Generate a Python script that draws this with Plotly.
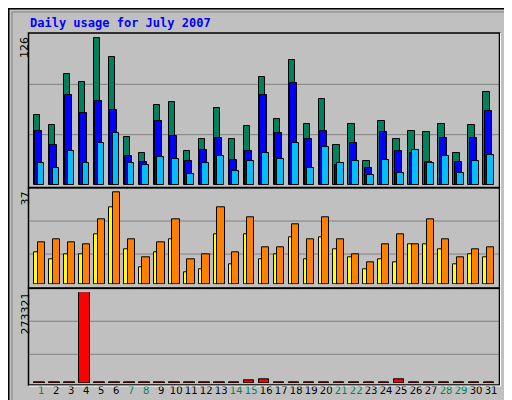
import plotly.graph_objects as go

days = list(range(1, 32))
hits = [58, 50, 93, 86, 123, 107, 40, 27, 67, 69, 28, 38, 64, 38, 49, 90, 55, 104, 51, 72, 33, 51, 20, 53, 38, 45, 44, 51, 27, 50, 78]
files = [45, 33, 75, 60, 70, 63, 24, 19, 53, 41, 20, 29, 39, 21, 28, 75, 43, 85, 38, 45, 17, 35, 14, 44, 28, 27, 19, 39, 19, 39, 62]
pages = [18, 14, 28, 18, 35, 43, 18, 17, 23, 22, 9, 18, 24, 12, 20, 27, 22, 35, 14, 32, 18, 20, 8, 21, 10, 29, 18, 24, 10, 20, 25]
visits = [17, 18, 17, 16, 26, 37, 18, 11, 17, 26, 10, 12, 31, 13, 27, 15, 15, 24, 18, 27, 18, 12, 9, 16, 20, 16, 26, 18, 11, 14, 15]
sites = [13, 10, 12, 12, 20, 31, 14, 7, 13, 18, 5, 6, 20, 8, 20, 10, 12, 19, 10, 19, 14, 11, 6, 10, 9, 16, 16, 14, 8, 12, 11]
kbytes = [1500, 1500, 1500, 273321, 1500, 1500, 1500, 1500, 1500, 1500, 1500, 1500, 1500, 1500, 8000, 11000, 1500, 1500, 1500, 1500,
          1500, 1500, 1500, 1500, 11000, 1500, 1500, 1500, 1500, 1500, 1500]
weekend = {1, 7, 8, 14, 15, 21, 22, 28, 29}
tick_labels = [f"<span style='color:#00805C'>{d}</span>" if d in weekend else str(d) for d in days]

W, H = 512, 400
L, R, T, B = 21, 21, 25, 23
PW, PH = W - L - R, H - T - B
def px(x): return (x - L) / PW
def py(y): return (H - B - y) / PH

fig = go.Figure()
ol = dict(color="black", width=1)
def bar(y, color, off, wid, ax):
    fig.add_trace(go.Bar(x=days, y=y, marker=dict(color=color, line=ol), offset=off, width=wid,
                         xaxis="x", yaxis=ax, showlegend=False, hoverinfo="skip"))

bar(hits, "#00805C", -0.51, 0.44, "y")
bar(files, "#0000FF", -0.42, 0.47, "y")
bar(pages, "#00BFFF", -0.25, 0.46, "y")
bar(sites, "#FFFF00", -0.51, 0.3, "y2")
bar(visits, "#FF8000", -0.25, 0.47, "y2")
bar(kbytes, "#FF0000", -0.47, 0.69, "y3")

gl = dict(showgrid=False, showticklabels=False, zeroline=False, fixedrange=True)
fig.update_layout(
    width=W, height=H, margin=dict(l=L, r=R, t=T, b=B),
    paper_bgcolor="#C0C0C0", plot_bgcolor="#C0C0C0", barmode="overlay", bargap=0,
    xaxis=dict(range=[0.18, 31.53], tickvals=days, ticktext=tick_labels, showgrid=False, zeroline=False,
               ticks="", tickangle=0, ticklen=0, tickfont=dict(family="DejaVu Sans", size=10, color="black"), anchor="y3"),
    yaxis=dict(domain=[py(177), py(26)], range=[0, 126], **gl),
    yaxis2=dict(domain=[py(276.3), py(182.3)], range=[0, 37.6], **gl),
    yaxis3=dict(domain=[py(375), py(284.3)], range=[0, 273321], **gl),
)

shapes = []
def hline(y, ax):
    shapes.append(dict(type="line", xref="paper", yref=ax, x0=0, x1=1, y0=y, y1=y,
                       line=dict(color="#808080", width=1), layer="below"))
hline(42, "y"); hline(84, "y")
hline(12.1, "y2"); hline(25.3, "y2")
hline(86500, "y3"); hline(186000, "y3")
for y0, y1 in [(25, 179.5), (180, 280), (280.5, 377)]:
    shapes.append(dict(type="rect", xref="paper", yref="paper", x0=px(20.5), x1=px(491.5), y0=py(y1), y1=py(y0),
                       line=dict(color="black", width=1.5)))
    shapes.append(dict(type="line", xref="paper", yref="paper", x0=px(21), x1=px(492.5), y0=py(y1 + 1), y1=py(y1 + 1),
                       line=dict(color="white", width=1)))
    shapes.append(dict(type="line", xref="paper", yref="paper", x0=px(492.5), x1=px(492.5), y0=py(y1 + 1), y1=py(y0),
                       line=dict(color="white", width=1)))
shapes.append(dict(type="rect", xref="paper", yref="paper", x0=px(0.5), x1=px(510.5), y0=py(398.5), y1=py(0.5),
                   line=dict(color="black", width=2)))
shapes.append(dict(type="rect", xref="paper", yref="paper", x0=px(4), x1=px(507), y0=py(395), y1=py(4),
                   line=dict(color="#808080", width=1)))
fig.update_layout(shapes=shapes)

mono = "DejaVu Sans Mono"
ann = [
    dict(text="<b>Daily usage for July 2007</b>", x=px(20), y=py(15), xanchor="left", yanchor="middle",
         font=dict(family=mono, size=12, color="#0000FF")),
    dict(text="126", x=px(8), y=py(27), textangle=-90, xanchor="left", yanchor="top",
         font=dict(family="DejaVu Sans", size=11, color="black")),
    dict(text="37", x=px(8), y=py(182), textangle=-90, xanchor="left", yanchor="top",
         font=dict(family="DejaVu Sans", size=11, color="black")),
    dict(text="273321", x=px(8), y=py(283), textangle=-90, xanchor="left", yanchor="top",
         font=dict(family="DejaVu Sans", size=11, color="black")),
    dict(text="<b><span style='color:#00BFFF'>Pages</span> / <span style='color:#0000FF'>Files</span> / <span style='color:#00805C'>Hits</span></b>",
         x=px(494), y=py(83), textangle=-90, xanchor="left", yanchor="middle",
         font=dict(family=mono, size=10, color="black")),
    dict(text="<b><span style='color:#FF8000'>Sites</span> / <span style='color:#FFFF00'>Visits</span></b>",
         x=px(494), y=py(237), textangle=-90, xanchor="left", yanchor="middle",
         font=dict(family=mono, size=10, color="black")),
    dict(text="<b>KBytes</b>", x=px(494), y=py(359), textangle=-90, xanchor="left", yanchor="middle",
         font=dict(family=mono, size=10, color="#FF0000")),
]
for a in ann:
    a.update(xref="paper", yref="paper", showarrow=False)
fig.update_layout(annotations=ann)

fig.write_html("out.html")
